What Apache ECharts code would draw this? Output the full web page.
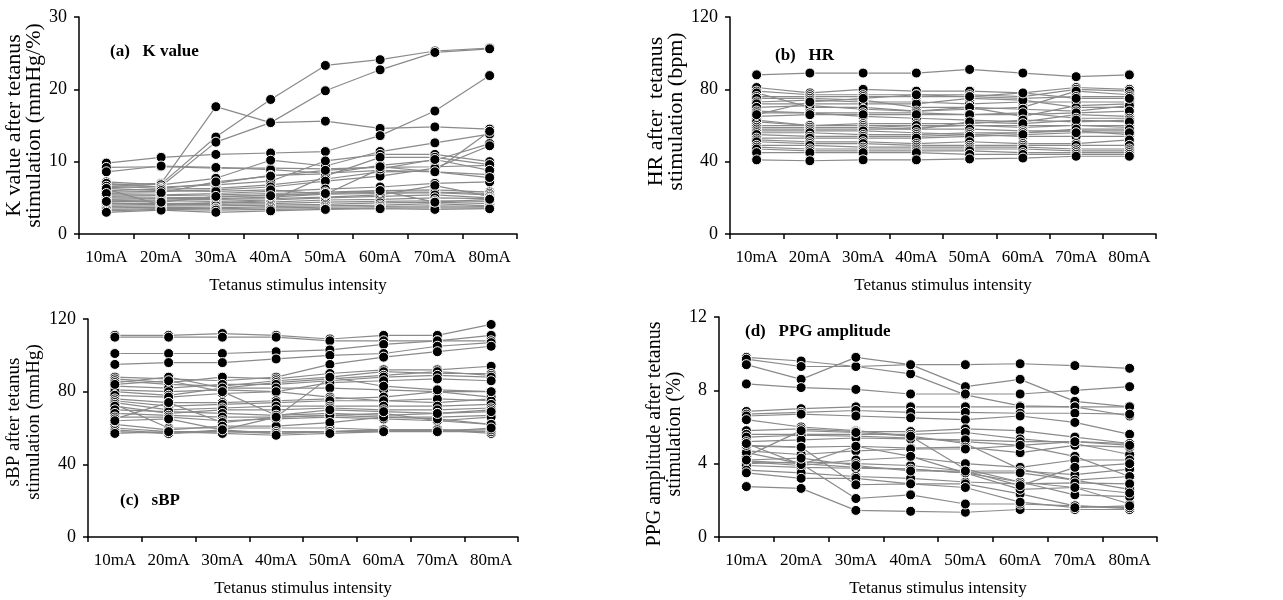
<!DOCTYPE html>
<html><head><meta charset="utf-8">
<script src="https://cdn.jsdelivr.net/npm/echarts@6/dist/echarts.min.js"></script>
<style>html,body{margin:0;padding:0;background:#fff}#c{width:1283px;height:600px}</style>
</head><body><div id="c"></div>
<script>
const categories = ['10mA','20mA','30mA','40mA','50mA','60mA','70mA','80mA'];

const kValue = [
  [6.8,7.0,17.6,15.4,15.6,14.6,14.8,14.5],
  [6.6,6.9,13.4,18.6,23.3,24.1,25.3,25.7],
  [6.4,6.6,12.7,15.4,19.8,22.7,25.1,25.6],
  [9.8,10.6,11.0,11.2,11.4,13.6,17.0,21.9],
  [9.2,9.3,9.1,9.1,9.0,9.2,9.3,9.5],
  [8.6,9.4,9.2,8.9,8.4,8.8,8.6,8.2],
  [7.2,6.8,7.7,10.2,9.4,11.4,12.6,13.8],
  [7.0,6.5,6.8,7.3,10.1,11.0,11.0,10.0],
  [6.6,6.3,7.0,8.1,8.3,9.5,10.2,12.5],
  [6.2,4.0,4.3,4.6,8.0,10.6,10.6,9.6],
  [6.0,6.2,6.3,6.8,7.6,8.6,8.7,14.2],
  [5.8,5.9,6.1,6.5,7.3,8.0,9.1,12.2],
  [5.4,5.4,5.6,5.9,6.2,6.5,7.0,7.2],
  [5.2,5.3,5.4,5.6,5.8,6.0,6.1,5.8],
  [5.0,5.0,5.1,5.4,5.6,5.8,5.8,5.6],
  [4.8,4.9,4.9,5.1,5.5,5.6,5.7,5.4],
  [4.6,4.7,4.8,4.9,5.1,5.4,6.7,5.2],
  [4.4,4.6,4.5,4.7,5.0,5.2,5.4,5.0],
  [4.2,4.2,4.3,4.4,4.7,4.8,5.0,4.9],
  [4.0,4.1,4.1,4.2,4.4,4.5,4.6,4.5],
  [3.8,3.9,3.9,4.0,4.1,4.3,4.4,4.2],
  [3.6,3.7,3.6,3.8,3.9,4.0,4.2,3.9],
  [3.4,3.5,3.5,3.6,3.7,3.8,3.9,3.8],
  [3.2,3.4,3.3,3.4,3.5,3.6,3.6,3.6],
  [3.0,3.3,3.0,3.2,3.4,3.5,3.4,3.5],
  [6.3,6.0,5.9,6.1,5.5,9.0,10.3,8.8],
  [5.6,5.7,7.2,8.0,8.8,9.3,8.6,7.8],
  [4.5,4.4,5.2,5.3,5.6,6.0,4.4,4.8]
];

const heartRate = [
  [88,89,89,89,91,89,87,88],
  [81,78,80,79,79,78,81,80],
  [79,77,77,77,77,76,80,79],
  [78,70,70,68,69,70,79,77],
  [76,76,76,76,76,75,76,76],
  [75,75,74,70,70,65,71,72],
  [73,74,73,73,72,73,73,73],
  [72,72,72,72,75,74,70,70],
  [70,71,69,68,70,69,68,71],
  [68,67,65,64,63,62,66,65],
  [67,67,67,67,66,66,67,68],
  [65,66,66,66,66,67,64,64],
  [63,60,61,61,61,63,62,63],
  [62,60,60,59,60,59,60,60],
  [60,60,60,60,60,60,60,59],
  [59,59,59,58,62,61,63,62],
  [58,58,58,58,58,57,57,57],
  [57,57,57,56,55,54,54,54],
  [56,56,55,55,56,56,57,55],
  [55,54,54,54,55,56,58,58],
  [53,53,53,53,54,55,56,56],
  [52,51,51,50,51,50,50,52],
  [51,50,50,49,49,49,49,49],
  [49,49,48,48,48,48,47,47],
  [48,47,47,47,47,47,46,46],
  [47,46,46,46,46,45,45,45],
  [45,45,45,45,44,44,44,44],
  [41,40.5,41,41,41.5,42,43,43],
  [66,73,75,77,76,78,75,75]
];

const systolicBP = [
  [111,111,112,111,109,111,111,117],
  [110,110,110,110,108,108,108,111],
  [101,101,101,102,103,106,108,108],
  [95,96,96,98,100,101,105,107],
  [88,87,86,88,95,99,102,105],
  [87,85,88,87,90,92,92,94],
  [86,84,83,86,88,91,90,90],
  [85,88,82,85,87,89,91,89],
  [83,82,84,84,86,88,89,88],
  [81,80,81,80,85,86,87,86],
  [80,78,82,82,82,81,80,80],
  [78,77,79,80,77,75,74,76],
  [76,74,74,75,76,77,80,77],
  [75,72,73,74,75,75,76,75],
  [74,70,71,72,72,72,72,73],
  [73,60,60,60,60,59,59,58],
  [72,68,70,70,71,70,70,71],
  [70,69,68,67,68,67,68,70],
  [68,67,66,66,67,66,66,67],
  [66,66,64,65,66,65,64,66],
  [65,74,63,66,67,68,64,62],
  [62,59,61,61,63,66,65,62],
  [60,58,58,58,58,58,59,57],
  [59,57,59,57,58,59,58,58],
  [58,57,58,57,58,59,59,59],
  [57,58,57,56,57,58,58,60],
  [84,86,80,67,70,69,68,69],
  [64,65,59,66,88,83,81,80]
];

const ppgAmplitude = [
  [9.8,9.6,9.3,9.4,8.2,8.6,7.4,7.1],
  [9.7,9.3,9.3,8.9,7.75,7.15,7.1,6.6],
  [9.4,8.6,9.8,9.4,9.4,9.45,9.35,9.2],
  [8.35,8.15,8.05,7.8,7.8,7.8,8.0,8.2],
  [6.85,7.0,7.1,7.1,7.1,7.1,7.1,7.1],
  [6.7,6.8,6.9,6.8,6.8,6.75,6.75,6.7],
  [6.6,6.7,6.6,6.5,6.4,6.6,6.25,5.6],
  [6.4,6.0,5.8,5.5,5.1,3.7,3.1,2.6],
  [5.8,5.9,5.75,5.75,5.9,5.8,5.45,5.1],
  [5.6,5.6,5.6,5.6,5.7,5.35,5.1,4.5],
  [5.45,5.55,5.5,5.4,5.2,5.0,4.4,3.3],
  [5.2,5.3,5.4,5.35,5.3,5.2,5.2,5.1],
  [4.95,4.9,4.95,4.85,4.9,4.6,5.0,4.9],
  [4.7,4.5,4.7,4.8,4.8,5.0,5.2,5.0],
  [4.4,5.8,5.7,5.5,3.7,3.0,2.7,1.8],
  [4.1,3.9,4.2,4.35,4.0,3.8,4.2,4.2],
  [4.15,4.0,3.8,3.7,3.5,3.0,2.3,2.2],
  [4.0,4.1,4.0,3.9,3.6,3.6,3.4,3.7],
  [3.9,3.8,3.75,3.7,3.5,3.5,3.1,3.3],
  [3.65,3.5,3.3,3.2,3.0,2.9,2.95,2.9],
  [3.5,3.2,3.2,2.9,2.9,2.35,1.7,1.55],
  [2.75,2.65,1.45,1.4,1.35,1.5,1.5,1.5],
  [4.6,4.0,2.1,2.3,1.8,1.8,1.7,1.6],
  [5.0,4.9,2.85,2.9,2.7,1.9,1.6,1.7],
  [5.1,3.95,4.95,4.4,3.5,2.6,2.7,2.4],
  [4.2,4.3,3.9,3.6,3.6,2.8,3.8,4.0]
];

const panels = [
  {label:'(a)   K value', data:kValue, max:30, interval:10, yName:'K value after tetanus\nstimulation (mmHg/%)',
   grid:{left:79, top:17, width:438, height:217}, title:{left:105, top:38}, nameGap:30, nameSize:22, namePad:[0,0,0,0]},
  {label:'(b)   HR', data:heartRate, max:120, interval:40, yName:'HR after  tetanus\nstimulation (bpm)',
   grid:{left:730, top:17, width:426, height:217}, title:{left:770, top:42}, nameGap:30, nameSize:22, namePad:[0,0,0,28]},
  {label:'(c)   sBP', data:systolicBP, max:120, interval:40, yName:'sBP after tetanus\nstimulation (mmHg)',
   grid:{left:88, top:319, width:430, height:218}, title:{left:115, top:487}, nameGap:44, nameSize:19, namePad:[0,0,0,12]},
  {label:'(d)   PPG amplitude', data:ppgAmplitude, max:12, interval:4, yName:'PPG amplitude after tetanus\nstimulation (%)',
   grid:{left:719, top:317, width:438, height:220}, title:{left:740, top:318}, nameGap:33, nameSize:20, namePad:[0,14,0,0]}
];

const FONT = '"Liberation Serif", "Times New Roman", serif';
const grids = [], xAxes = [], yAxes = [], series = [], titles = [];
panels.forEach((p, i) => {
  grids.push(Object.assign({containLabel:false}, p.grid));
  titles.push({text:p.label, left:p.title.left, top:p.title.top,
    textStyle:{fontFamily:FONT, fontSize:17, fontWeight:'bold', color:'#000'}});
  xAxes.push({type:'category', gridIndex:i, data:categories, boundaryGap:true,
    axisLine:{lineStyle:{color:'#000', width:1.5}},
    axisTick:{show:true, interval:0, alignWithLabel:false, length:5, lineStyle:{color:'#000', width:1.5}},
    axisLabel:{interval:0, fontFamily:FONT, fontSize:17, color:'#000', margin:15},
    name:'Tetanus stimulus intensity', nameLocation:'middle', nameGap:43,
    nameTextStyle:{fontFamily:FONT, fontSize:17, color:'#000'}});
  yAxes.push({type:'value', gridIndex:i, min:0, max:p.max, interval:p.interval,
    axisLine:{show:true, lineStyle:{color:'#000', width:1.5}},
    axisTick:{show:true, length:5, lineStyle:{color:'#000', width:1.5}},
    splitLine:{show:false},
    axisLabel:{fontFamily:FONT, fontSize:18, color:'#000', margin:12},
    name:p.yName, nameLocation:'middle', nameGap:p.nameGap, nameRotate:90,
    nameTextStyle:{fontFamily:FONT, fontSize:p.nameSize, color:'#000', lineHeight:20, padding:p.namePad}});
  p.data.forEach(row => {
    series.push({type:'line', xAxisIndex:i, yAxisIndex:i, data:row,
      symbol:'circle', symbolSize:10, showAllSymbol:true, animation:false,
      lineStyle:{color:'#8a8a8a', width:1.2},
      itemStyle:{color:'#000', borderColor:'#fff', borderWidth:1},
      emphasis:{disabled:true}});
  });
});

const chart = echarts.init(document.getElementById('c'), null, {renderer:'canvas'});
chart.setOption({animation:false, backgroundColor:'#fff', title:titles, grid:grids,
  xAxis:xAxes, yAxis:yAxes, series:series});
</script></body></html>
